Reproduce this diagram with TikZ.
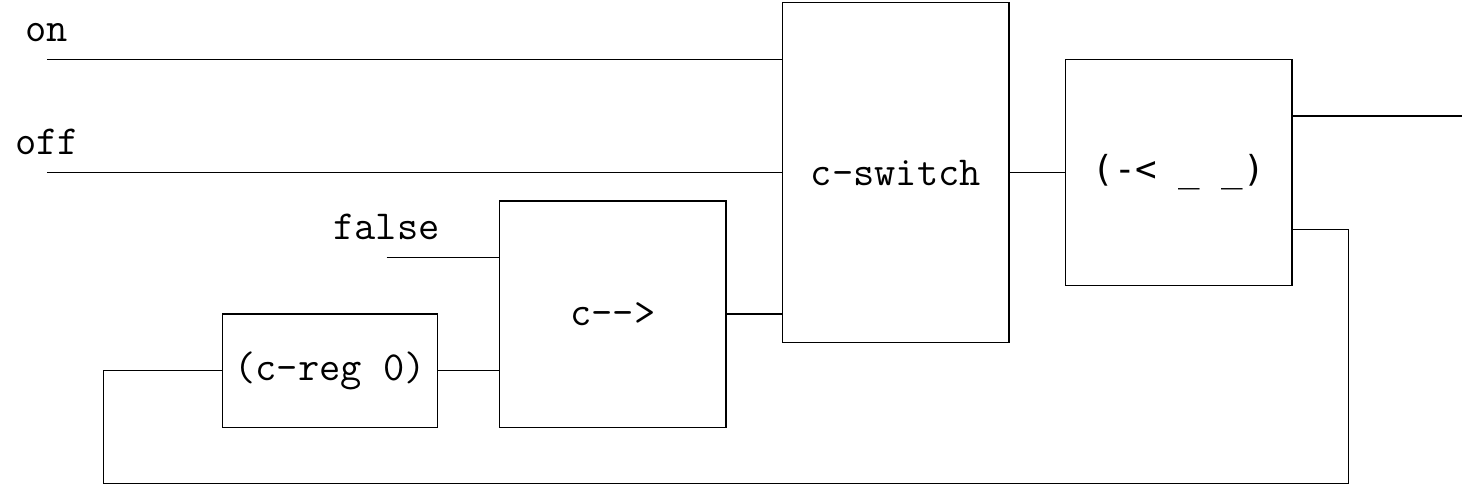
\documentclass[tikz,border=0pt]{standalone}
\usepackage{fontspec}
\newfontfamily\forkfont{DejaVu Sans Mono}
\usepackage{tikz}
\usetikzlibrary{positioning, calc}

\begin{document}
\begin{tikzpicture}[
  font        = \fontsize{20.74}{25}\selectfont\ttfamily,
  line width  = 0.6pt,
  % plain boxes, sized on a 1 cm grid
  block/.style = {draw, rectangle, minimum width=4cm, minimum height=4cm,
                  inner sep=0pt, align=center},
  wire/.style  = {draw},
  every label/.style = {label distance=0.18cm},
]

% Grid: on = 7.5, off = 5.5, false = 4, feedback bottom = 0
\useasboundingbox (-0.83,-0.07) rectangle (25.11,8.55);

\node[block, minimum height=6cm]      (cswitch) at (15, 5.5) {c-switch};
\node[block]                          (fork)    at (20, 5.5) {\forkfont\fontsize{18}{22}\selectfont(-< \_ \_)};
\node[block]                          (seq)     at (10, 3)   {c-->};
\node[block, minimum width=3.8cm,
      minimum height=2cm]             (reg)     at (5, 2)    {(c-reg 0)};

% ── Inputs and free ends ──────────────────────────────────────────────────
\coordinate[label={above:on}]    (on)    at (0, 7.5);
\coordinate[label={above:off}]   (off)   at (0, 5.5);
\coordinate[label={above:false}] (false) at (6, 4);
\coordinate                      (out)   at (25, 6.5);
\coordinate                      (loopr) at (23, 4.5);
\coordinate                      (loopl) at (1, 0);

% ── Wires ─────────────────────────────────────────────────────────────────
\draw[wire] (on)        -- (cswitch.west |- on);
\draw[wire] (off)       -- (cswitch.west |- off);
\draw[wire] (false)     -- (seq.west |- false);
\draw[wire] (reg.east)  -- (seq.west |- reg.east);
\draw[wire] (seq.east)  -- (cswitch.west |- seq.east);
\draw[wire] (cswitch.east) -- (fork.west);
\draw[wire] (fork.east |- out) -- (out);
\draw[wire] (fork.east |- loopr) -- (loopr) |- (loopl) |- (reg.west);

\end{tikzpicture}
\end{document}
